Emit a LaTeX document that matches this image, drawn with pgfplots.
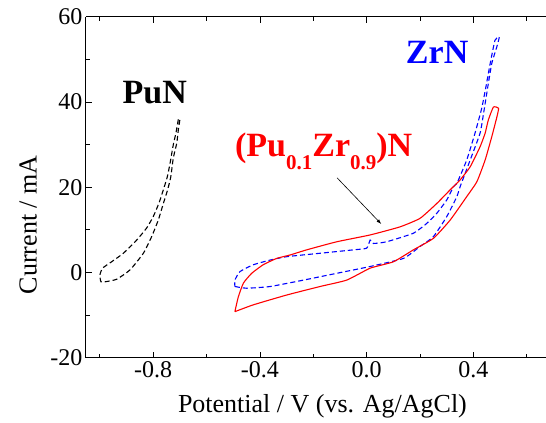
\documentclass[border=0pt]{standalone}
\usepackage{pgfplots}
\pgfplotsset{compat=1.18}
\usepackage{fontspec}
\setmainfont{Liberation Serif}
\usetikzlibrary{calc}
\begin{document}
\begin{tikzpicture}
\begin{axis}[name=ax, scale only axis, width=460pt, height=341pt,
  xmin=-1.052, xmax=0.672, ymin=-20, ymax=60,
  axis x line*=box, axis y line*=left,
  axis line style={black, line width=1pt},
  xtick={-0.8,-0.4,0,0.4}, minor xtick={-1,-0.6,-0.2,0.2,0.6},
  ytick={-20,0,20,40,60}, minor ytick={-10,10,30,50},
  tick align=inside, major tick length=6pt, minor tick length=4pt,
  tick style={black, line width=0.8pt},
  ticklabel style={font=\fontsize{24}{24}\selectfont},
  /pgf/number format/assume math mode=true,
  xticklabel style={/pgf/number format/.cd, fixed, zerofill, precision=1},
  yticklabel style={/pgf/number format/.cd, fixed, precision=0},
  xlabel={Potential / V (vs. Ag/AgCl)},
  ylabel={Current / mA},
  label style={font=\fontsize{26}{26}\selectfont},
  xlabel style={at={(axis description cs:0.514,-0.162)}, anchor=base},
  ylabel style={at={(axis description cs:-0.126,0.39)}, anchor=center},
  clip=false,
]
% PuN
\addplot[black, line width=1.1pt, dash pattern=on 5pt off 3pt, smooth, tension=0.3] coordinates {
(-0.706,35.9) (-0.715,32.7) (-0.725,29.9) (-0.737,25.6) (-0.747,22.5) (-0.762,19.4)
(-0.779,16.2) (-0.800,13.1) (-0.825,10.4) (-0.862,7.6) (-0.912,4.5) (-0.956,2.5)
(-0.990,1.0) (-1.000,-0.6) (-0.996,-2.2) (-0.981,-2.2) (-0.937,-1.6) (-0.887,0.6)
(-0.837,4.5) (-0.806,8.4) (-0.781,12.3) (-0.762,16.2) (-0.746,19.4) (-0.734,22.5)
(-0.725,26.8) (-0.712,30.3) (-0.706,33.4) (-0.700,35.9)
};
% ZrN
\addplot[blue, line width=1.1pt, dash pattern=on 5pt off 3pt, smooth, tension=0.3] coordinates {
(-0.494,-3.3) (-0.450,-3.7) (-0.362,-3.3) (-0.237,-1.8) (-0.112,-0.2) (0.013,1.4)
(0.138,3.3) (0.200,6.1) (0.250,8.4) (0.300,13.1) (0.338,17.8) (0.350,20.1)
(0.388,26.4) (0.425,32.7) (0.440,38.1) (0.454,43.6) (0.469,49.1) (0.488,53.0)
(0.497,55.3) (0.481,54.5) (0.463,49.1) (0.447,43.6) (0.431,38.5) (0.406,32.7)
(0.375,26.4) (0.338,20.9) (0.325,20.1) (0.300,17.0) (0.263,13.9) (0.225,11.5)
(0.175,9.2) (0.075,7.2) (0.025,6.8) (0.013,7.6) (0.000,5.7) (-0.050,5.3)
(-0.175,4.5) (-0.300,3.7) (-0.362,2.9) (-0.425,1.8) (-0.475,0.2) (-0.494,-1.8)
(-0.494,-3.3)
};
% (Pu0.1Zr0.9)N
\addplot[red, line width=1.1pt, smooth, tension=0.3] coordinates {
(-0.494,-9.2) (-0.425,-7.6) (-0.300,-5.3) (-0.175,-3.3) (-0.075,-1.8) (0.013,1.0)
(0.100,2.5) (0.175,5.3) (0.250,8.0) (0.313,12.3) (0.375,17.8) (0.413,21.3)
(0.444,26.4) (0.469,31.9) (0.488,36.5) (0.494,38.5) (0.475,38.8) (0.456,35.8)
(0.444,32.7) (0.425,29.5) (0.388,24.8) (0.350,21.7) (0.313,19.4) (0.263,16.2)
(0.200,12.7) (0.125,10.7) (0.013,8.8) (-0.112,7.2) (-0.225,5.3) (-0.287,4.1)
(-0.337,3.3) (-0.388,1.8) (-0.431,-0.2) (-0.462,-2.5) (-0.481,-5.7) (-0.494,-9.2)
};
\node[font=\fontsize{34}{34}\selectfont\bfseries] at (axis cs:-0.794,42.1) {PuN};
\node[font=\fontsize{34}{34}\selectfont\bfseries, text=blue] at (axis cs:0.264,51.7) {ZrN};
\node[font=\fontsize{34}{34}\selectfont\bfseries, text=red, anchor=base west, inner sep=0pt]
  at (axis cs:-0.494,27.1)
  {(Pu\raisebox{-13pt}{\fontsize{21}{21}\selectfont 0.1}Zr\raisebox{-13pt}{\fontsize{21}{21}\selectfont 0.9})N};
\draw[black, line width=0.6pt, -latex] (axis cs:-0.111,22.2) -- (axis cs:0.054,11.4);
\end{axis}
\pgfresetboundingbox
\path[use as bounding box] ($(ax.south west)+(-86pt,-65.3pt)$) rectangle ($(ax.north east)+(0pt,16.7pt)$);
\end{tikzpicture}
\end{document}
